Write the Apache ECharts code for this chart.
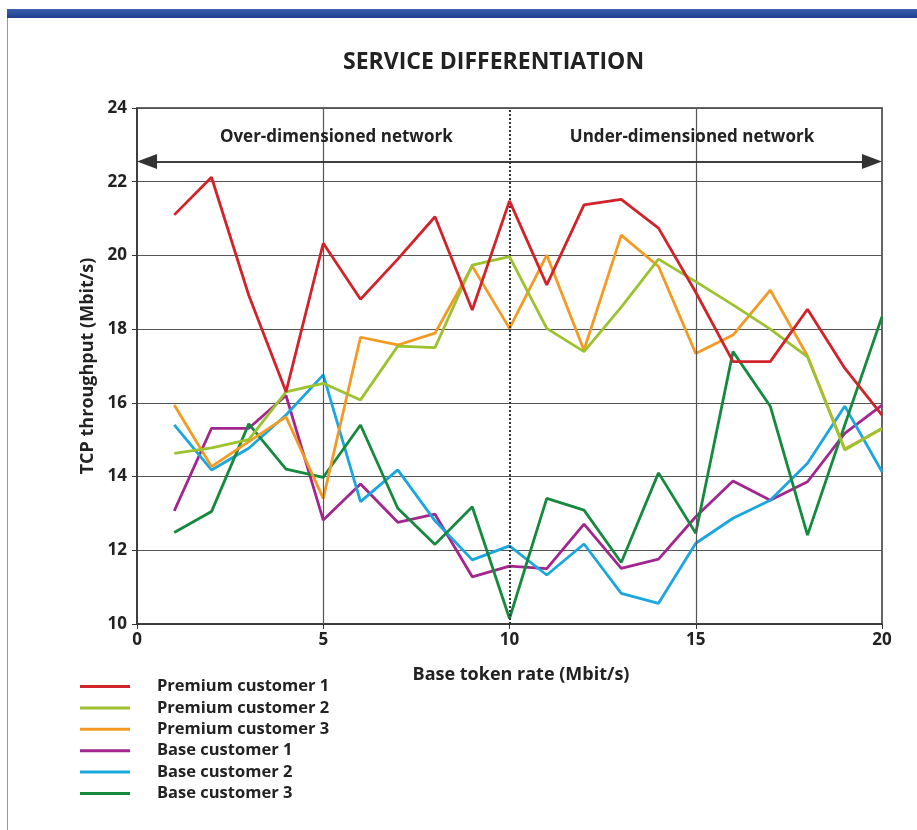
<!DOCTYPE html>
<html>
<head>
<meta charset="utf-8">
<script src="https://cdn.jsdelivr.net/npm/echarts@6/dist/echarts.min.js"></script>
<style>
html,body{margin:0;padding:0;background:#fff;}
#c{width:917px;height:830px;}
</style>
</head>
<body>
<div id="c"></div>
<script>
// ---- data ----
const xValues = [1,2,3,4,5,6,7,8,9,10,11,12,13,14,15,16,17,18,19,20];
const seriesNames = ['Premium customer 1','Premium customer 2','Premium customer 3','Base customer 1','Base customer 2','Base customer 3'];
const premium1 = [21.1,22.12,18.92,16.3,20.33,18.81,19.9,21.05,18.52,21.48,19.2,21.37,21.52,20.74,19.0,17.12,17.12,18.54,16.94,15.67];
const premium2 = [14.63,14.78,15.0,16.3,16.53,16.08,17.54,17.5,19.74,19.97,18.02,17.39,18.6,19.9,19.29,18.66,18.0,17.25,14.72,15.31];
const premium3 = [15.94,14.27,14.95,15.62,13.41,17.78,17.57,17.89,19.71,18.02,20.01,17.43,20.55,19.7,17.34,17.84,19.06,17.27,14.75,15.3];
const base1 = [13.07,15.31,15.31,16.2,12.82,13.8,12.76,12.98,11.28,11.57,11.5,12.71,11.51,11.76,12.91,13.88,13.36,13.86,15.17,15.94];
const base2 = [15.4,14.18,14.77,15.67,16.76,13.32,14.18,12.8,11.74,12.12,11.33,12.17,10.83,10.56,12.19,12.87,13.36,14.36,15.91,14.13];
const base3 = [12.48,13.05,15.43,14.2,13.98,15.4,13.14,12.16,13.18,10.15,13.41,13.09,11.67,14.1,12.46,17.39,15.91,12.41,15.4,18.34];
const xTicks = [0,5,10,15,20];
const yTicks = [10,12,14,16,18,20,22,24];
const regionLabels = ['Over-dimensioned network','Under-dimensioned network'];
const regionLabelPos = [[5.35,23.21],[14.9,23.21]];
const boundaryX = 10;
const arrowY = 22.55;
const arrowInset = 0.27;

const colors = ['#d2232a','#9cc32f','#f49a22','#a3268f','#1aa6df','#158a3e'];
const zs = [6,5,4,3,3,3];
const allData = [premium1,premium2,premium3,base1,base2,base3];
const FONT = 'Open Sans';

const chart = echarts.init(document.getElementById('c'));

const series = allData.map((vals,i)=>({
  name: seriesNames[i],
  type:'line',
  data: vals.map((v,k)=>[xValues[k],v]),
  symbol:'none',
  z: zs[i],
  lineStyle:{color:colors[i],width:2.8},
  itemStyle:{color:colors[i]},
  emphasis:{disabled:true},
  animation:false
}));

series.push({
  name:'_annot',
  type:'line',
  data:[],
  z:1,
  silent:true,
  animation:false,
  markLine:{
    silent:true,
    symbol:'none',
    animation:false,
    label:{show:false},
    data:[
      {xAxis:xTicks[1], lineStyle:{type:'solid',color:'#555',width:1.2}},
      {xAxis:xTicks[3], lineStyle:{type:'solid',color:'#555',width:1.2}},
      {xAxis:boundaryX, lineStyle:{type:[2,2],color:'#333',width:2}},
      [{coord:[xTicks[0]+arrowInset,arrowY], symbol:'triangle', symbolSize:[15,20], lineStyle:{type:'solid',color:'#333',width:1.5}},
       {coord:[xTicks[4]-arrowInset,arrowY], symbol:'triangle', symbolSize:[15,20]}],
      [{coord:[xTicks[0]+arrowInset,arrowY], symbol:'none', lineStyle:{type:'solid',color:'#333',width:1.5}},
       {coord:[xTicks[4]-arrowInset,arrowY], symbol:'none'}]
    ]
  },
  markPoint:{
    silent:true,
    animation:false,
    symbol:'rect',
    symbolSize:2,
    itemStyle:{color:'rgba(0,0,0,0)'},
    label:{show:true,position:'inside',formatter:'{b}',color:'#222',fontFamily:FONT,fontWeight:'bold',fontSize:17},
    data: regionLabels.map((t,i)=>({name:t, coord:regionLabelPos[i]}))
  }
});

chart.setOption({
  backgroundColor:'#fff',
  animation:false,
  title:{
    text:'SERVICE DIFFERENTIATION',
    left:338, top:46,
    textStyle:{fontFamily:FONT,fontWeight:'bold',fontSize:23,color:'#222'}
  },
  graphic:[
    {type:'rect',shape:{x:7,y:9,width:910,height:9},style:{fill:new echarts.graphic.LinearGradient(0,0,0,1,[{offset:0,color:'#3a5fb0'},{offset:1,color:'#1f3f8f'}])},silent:true},
    {type:'line',shape:{x1:7.5,y1:18,x2:7.5,y2:830},style:{stroke:'#999',lineWidth:1},silent:true}
  ],
  legend:{
    orient:'vertical',
    left:75, top:673,
    icon:'rect',
    itemWidth:50, itemHeight:3,
    itemGap:4.4,
    data: seriesNames,
    selectedMode:false,
    textStyle:{fontFamily:FONT,fontWeight:'bold',fontSize:16.5,color:'#222',padding:[0,0,0,22],lineHeight:15}
  },
  grid:{left:137,right:35,top:108,bottom:206,show:true,borderColor:'#333',borderWidth:1.5,backgroundColor:'#fff'},
  xAxis:{
    type:'value', min:xTicks[0], max:xTicks[xTicks.length-1], interval:5,
    name:'Base token rate (Mbit/s)', nameLocation:'middle', nameGap:42,
    nameTextStyle:{fontFamily:FONT,fontWeight:'bold',fontSize:18,color:'#222',padding:[0,0,0,23]},
    axisLine:{show:true,lineStyle:{color:'#333',width:1.5}},
    axisTick:{show:true,length:5,lineStyle:{color:'#333'}},
    axisLabel:{fontFamily:FONT,fontWeight:'bold',fontSize:17,color:'#222',margin:8},
    splitLine:{show:false}
  },
  yAxis:{
    type:'value', min:yTicks[0], max:yTicks[yTicks.length-1], interval:2,
    name:'TCP throughput (Mbit/s)', nameLocation:'middle', nameGap:40, nameRotate:90,
    nameTextStyle:{fontFamily:FONT,fontWeight:'bold',fontSize:18,color:'#222'},
    axisLine:{show:true,lineStyle:{color:'#333',width:1.5}},
    axisTick:{show:true,length:5,lineStyle:{color:'#333'}},
    axisLabel:{fontFamily:FONT,fontWeight:'bold',fontSize:17,color:'#222',margin:10},
    splitLine:{show:true,lineStyle:{color:'#555',width:1.2}}
  },
  series: series
});
</script>
</body>
</html>
